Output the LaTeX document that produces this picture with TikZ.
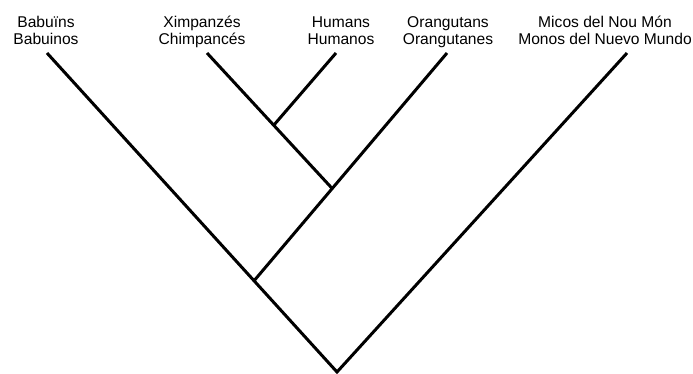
\documentclass[tikz,border=0pt]{standalone}
\usepackage{fontspec}
\setmainfont{Liberation Sans}
\usetikzlibrary{positioning,calc}
\tikzset{
  taxon/.style ={align=center, font=\fontsize{15.6}{17}\selectfont,
                 inner sep=0pt, text depth=4pt, anchor=south},
  br/.style    ={draw=black, line width=3pt, line join=miter},
}
\begin{document}
\begin{tikzpicture}[x=1pt,y=-1pt]
  \useasboundingbox (0,0) rectangle (693,374);
  % taxa
  \node[taxon] (bab) at (46,49) {Babuïns\\Babuinos};
  \node[taxon] (chi) at (202,49) {Ximpanzés\\Chimpancés};
  \node[taxon] (hum) at (341,49) {Humans\\Humanos};
  \node[taxon] (ora) at (448,49) {Orangutans\\Orangutanes};
  \node[taxon] (mic) at (605,49) {Micos del Nou Món\\Monos del Nuevo Mundo};
  % tips and splits
  \coordinate (tbab) at (47,53);\coordinate (tchi) at (207,53);
  \coordinate (thum) at (336,53);\coordinate (tora) at (447,53);
  \coordinate (tmic) at (627,53);
  \coordinate (root) at (337,372);
  \coordinate (na) at ($(root)!0.286!(tbab)$);
  \coordinate (nb) at ($(na)!0.405!(tora)$);
  \coordinate (nc) at ($(nb)!0.467!(tchi)$);
  \draw[br](tbab)--(root)--(tmic);
  \draw[br](na)--(tora);\draw[br](nb)--(tchi);\draw[br](nc)--(thum);
\end{tikzpicture}
\end{document}
